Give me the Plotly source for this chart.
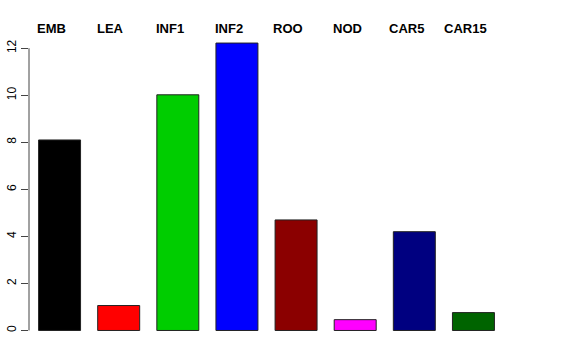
import plotly.graph_objects as go

categories = ["EMB", "LEA", "INF1", "INF2", "ROO", "NOD", "CAR5", "CAR15"]
values = [8.1, 1.06, 10.02, 12.22, 4.7, 0.46, 4.2, 0.76]
colors = ["#000000", "#FF0000", "#00CD00", "#0000FF", "#8B0000", "#FF00FF", "#000080", "#006400"]
y_ticks = [0, 2, 4, 6, 8, 10, 12]

idx = list(range(len(categories)))

fig = go.Figure()
fig.add_trace(go.Bar(
    x=idx, y=values,
    marker=dict(color=colors, line=dict(color="#222222", width=1)),
    width=0.71,
    hoverinfo="skip",
    showlegend=False,
))

for i, c in zip(idx, categories):
    fig.add_annotation(
        x=i, xref="x", y=1.012, yref="paper", text="<b>" + c + "</b>",
        showarrow=False, xanchor="center", yanchor="middle", xshift=-8,
        font=dict(family="Liberation Sans, Arial, sans-serif", size=13, color="#000000"),
    )

# R-style axis line spanning only the tick range
fig.add_shape(type="line", xref="paper", yref="y", x0=0, x1=0,
              y0=min(y_ticks), y1=max(y_ticks), line=dict(color="#444444", width=1))

fig.update_layout(
    width=576, height=360,
    margin=dict(l=29, r=73.5, t=32, b=17.5, autoexpand=False),
    plot_bgcolor="white", paper_bgcolor="white",
    font=dict(family="Liberation Sans, Arial, sans-serif", size=12, color="#000000"),
    xaxis=dict(range=[-0.517, 7.483], showticklabels=False, showgrid=False,
               zeroline=False, showline=False, ticks="", automargin=False),
    yaxis=dict(range=[-0.49, 12.69], tickvals=y_ticks, ticktext=[str(t) for t in y_ticks],
               tickangle=-90, ticks="outside", ticklen=7, tickcolor="#444444", tickwidth=1,
               showgrid=False, zeroline=False, showline=False, automargin=False,
               tickfont=dict(size=12, color="#000000")),
)

fig.write_html("out.html")
